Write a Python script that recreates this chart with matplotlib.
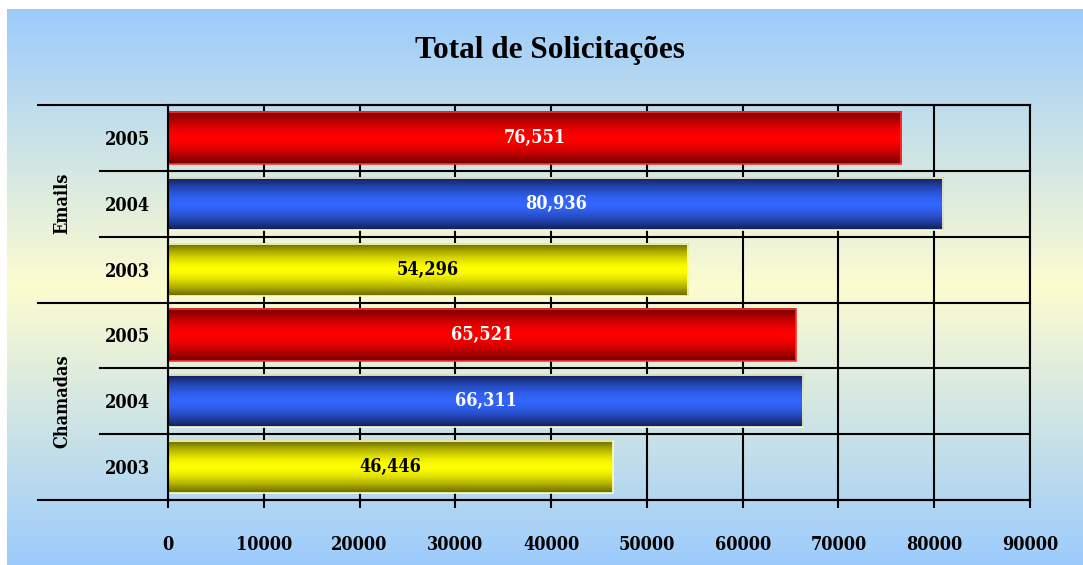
import numpy as np
import matplotlib.pyplot as plt
from matplotlib.colors import to_rgb

# Dados
groups = ['Emails', 'Chamadas']
years = ['2005', '2004', '2003']
emails = [76551, 80936, 54296]
chamadas = [65521, 66311, 46446]
xticks = [0, 10000, 20000, 30000, 40000, 50000, 60000, 70000, 80000, 90000]

# cores por ano: (escura, clara, borda, texto)
year_colors = {
    '2005': ('#6e0000', '#ff0000', '#ff3030', 'white'),
    '2004': ('#101e55', '#3366ff', '#ffffc8', 'white'),
    '2003': ('#666600', '#ffff00', '#ffffc8', 'black'),
}

fnt = dict(family=['DejaVu Serif'], fontstretch='condensed', fontweight='bold', fontsize=13)

fig = plt.figure(figsize=(10.83, 5.65), dpi=100)
fig.patch.set_facecolor('white')

# fundo em degradê azul -> amarelo -> azul
bg = fig.add_axes([7 / 1083, 0, 1 - 7 / 1083, 1 - 9 / 565], zorder=-10)
blue = np.array(to_rgb('#9ccbfc'))
yellow = np.array(to_rgb('#fdfcd0'))
t = np.linspace(0, 1, 256)
f = 1 - np.abs(2 * t - 1)
grad = blue[None, :] * (1 - f[:, None]) + yellow[None, :] * f[:, None]
bg.imshow(grad[:, None, :], aspect='auto', extent=[0, 1, 0, 1])
bg.axis('off')

ax = fig.add_axes([168 / 1083, 1 - 500 / 565, 862 / 1083, 395 / 565])
ax.patch.set_alpha(0)

vals = emails + chamadas
labels = years + years
ypos = np.arange(len(vals)) + 0.5
h = 0.79

tt = np.linspace(-1, 1, 64)
shade = 1 - np.abs(tt) ** 1.6
for y, v, yr in zip(ypos, vals, labels):
    dark, light, edge, tc = year_colors[yr]
    d = np.array(to_rgb(dark)); l = np.array(to_rgb(light))
    img = d[None, :] * (1 - shade[:, None]) + l[None, :] * shade[:, None]
    ax.imshow(img[:, None, :], aspect='auto', extent=[0, v, y - h / 2, y + h / 2], zorder=3)
    ax.barh(y, v, height=h, fill=False, edgecolor=edge, linewidth=1.2, zorder=4)
    ax.text(v / 2, y, f'{v:,}', ha='center', va='center', color=tc, zorder=5, **fnt)

ax.set_xlim(0, 90000)
ax.set_ylim(6, 0)
ax.set_xticks(xticks)
ax.set_xticklabels([str(x) for x in xticks], **fnt)
ax.set_yticks(ypos)
ax.set_yticklabels(labels, **fnt)
ax.tick_params(axis='x', direction='out', length=6, width=1.5, pad=20)
ax.tick_params(axis='y', length=0, pad=13)
ax.grid(axis='x', color='black', linewidth=1.5, zorder=1)
ax.set_axisbelow(True)
for s in ax.spines.values():
    s.set_linewidth(1.5)
    s.set_zorder(6)

# linhas horizontais entre categorias
trans = ax.get_yaxis_transform()
for b in range(0, 7):
    x0 = -0.1508 if b % 3 == 0 else -0.0789
    ax.plot([x0, 1], [b, b], color='black', linewidth=1.5, transform=trans,
            clip_on=False, zorder=2)

for i, g in enumerate(groups):
    ax.text(-0.123, 1.5 + 3 * i, g, transform=trans, rotation=90, ha='center', va='center', **fnt)

fig.text(0.508, 0.91, 'Total de Solicitações', ha='center', va='center',
         fontsize=22.5, fontweight='bold', family=['Liberation Serif'])

plt.savefig('out.png', dpi=100)
